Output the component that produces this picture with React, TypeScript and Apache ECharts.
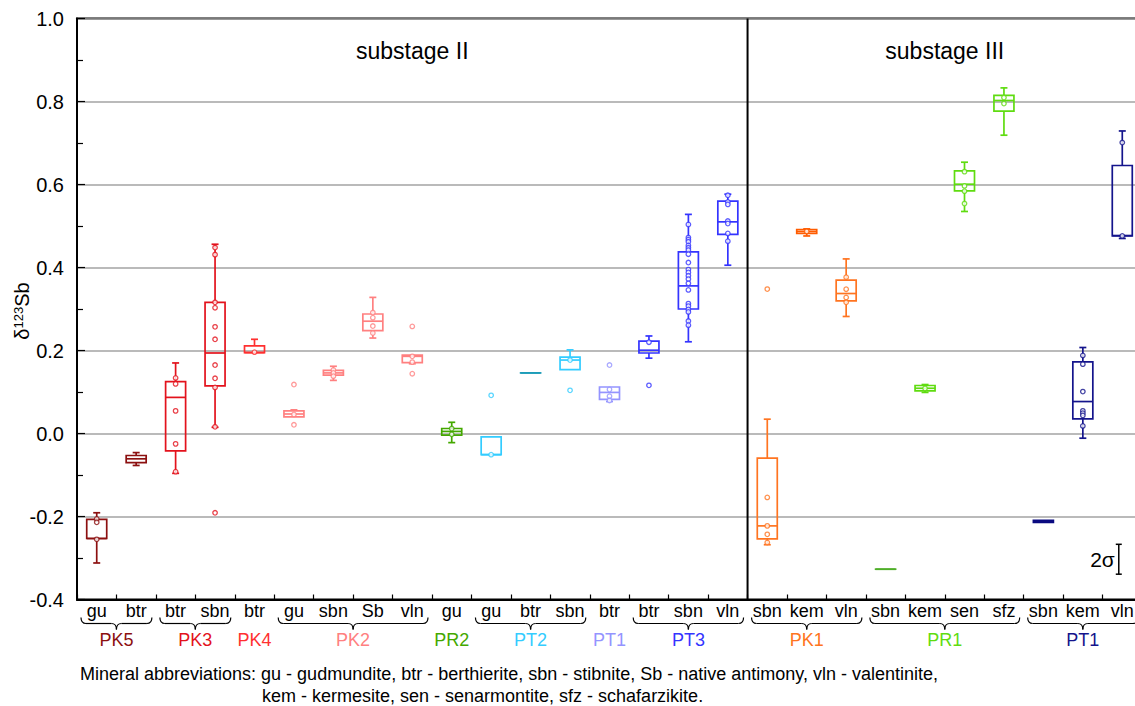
import React, { useEffect, useRef } from "react";
import * as echarts from "echarts";

// ---------- data ----------
const categories = [
  "gu", "btr", "btr", "sbn", "btr", "gu", "sbn", "Sb", "vln", "gu", "gu", "btr", "sbn", "btr",
  "btr", "sbn", "vln", "sbn", "kem", "vln", "sbn", "kem", "sen", "sfz", "sbn", "kem", "vln",
];

const groupNames = ["PK5", "PK3", "PK4", "PK2", "PR2", "PT2", "PT1", "PT3", "PK1", "PR1", "PT1"];
const groupStart = [0, 2, 4, 5, 9, 10, 13, 14, 17, 20, 24];
const groupEnd = [1, 3, 4, 8, 9, 12, 13, 16, 19, 23, 26];
const groupColors = [
  "#8c1010", "#e3121c", "#ff3030", "#ff8080", "#44a800", "#33ccff",
  "#9494ff", "#3434ff", "#ff7420", "#5fdc10", "#14148c",
];
const categoryColorOverrides: Record<number, string> = {
  11: "#1d9cb8",
  18: "#ff5c00",
  20: "#4fae28",
  24: "#0a0a80",
};

const sectionNames = ["substage II", "substage III"];
const sectionStart = [0, 17];
const sectionEnd = [16, 26];

// [min, Q1, median, Q3, max] per category
const boxStats: number[][] = [
  [-0.312, -0.253, -0.253, -0.207, -0.191],
  [-0.077, -0.07, -0.061, -0.053, -0.046],
  [-0.096, -0.042, 0.087, 0.125, 0.17],
  [0.015, 0.115, 0.194, 0.316, 0.456],
  [0.195, 0.195, 0.195, 0.211, 0.227],
  [0.04, 0.04, 0.047, 0.0545, 0.057],
  [0.128, 0.1405, 0.146, 0.152, 0.162],
  [0.23, 0.248, 0.2706, 0.288, 0.328],
  [0.168, 0.171, 0.186, 0.189, 0.189],
  [-0.022, -0.004, 0.005, 0.012, 0.027],
  [-0.051, -0.051, -0.051, -0.008, -0.008],
  [0.146, 0.146, 0.146, 0.146, 0.146],
  [0.154, 0.154, 0.177, 0.184, 0.2015],
  [0.077, 0.082, 0.099, 0.112, 0.112],
  [0.1815, 0.194, 0.2007, 0.2224, 0.235],
  [0.221, 0.3, 0.3557, 0.4376, 0.528],
  [0.4055, 0.48, 0.51, 0.56, 0.5766],
  [-0.268, -0.254, -0.2226, -0.0595, 0.0345],
  [0.476, 0.482, 0.487, 0.4916, 0.493],
  [0.282, 0.3195, 0.3373, 0.3694, 0.4207],
  [-0.327, -0.327, -0.327, -0.327, -0.327],
  [0.099, 0.1027, 0.109, 0.1157, 0.118],
  [0.535, 0.5846, 0.6007, 0.6328, 0.6537],
  [0.7188, 0.7766, 0.8024, 0.815, 0.8328],
  [-0.2145, -0.2145, -0.212, -0.2095, -0.2095],
  [-0.0113, 0.0352, 0.077, 0.1725, 0.2072],
  [0.47, 0.476, 0.477, 0.6458, 0.729],
];

// individual measurements per category
const samplePoints: number[][] = [
  [-0.206, -0.214, -0.255],
  [],
  [0.134, 0.1195, 0.0545, -0.025, -0.092],
  [0.448, 0.431, 0.316, 0.303, 0.257, 0.227, 0.165, 0.133, 0.111, 0.016, -0.191],
  [0.196],
  [0.118, 0.046, 0.021],
  [0.153, 0.146, 0.138],
  [0.2915, 0.279, 0.259, 0.242],
  [0.258, 0.186, 0.172, 0.144],
  [0.012, -0.002],
  [0.092, -0.051],
  [],
  [0.177, 0.104],
  [0.165, 0.106, 0.09, 0.0795],
  [0.22, 0.116],
  [0.5036, 0.472, 0.467, 0.462, 0.453, 0.4475, 0.442, 0.432, 0.412, 0.395, 0.388, 0.38, 0.372,
    0.362, 0.346, 0.313, 0.307, 0.299, 0.293, 0.271, 0.261],
  [0.574, 0.558, 0.552, 0.512, 0.506, 0.482, 0.4634],
  [0.348, -0.154, -0.2226, -0.243, -0.2626],
  [0.487],
  [0.3766, 0.3477, 0.3277, 0.316],
  [],
  [0.109],
  [0.631, 0.5966, 0.584, 0.554],
  [0.8096, 0.795],
  [],
  [0.188, 0.167, 0.101, 0.0545, 0.049, 0.0434, 0.0183],
  [0.701, 0.476],
];

const yMin = -0.4;
const yMax = 1.0;
const yInterval = 0.2;
const twoSigma = 0.072;
const twoSigmaTop = -0.267;

const yAxisTitle = "{d|δ}{s|123}{b|Sb}";
const footnoteLines = [
  "Mineral abbreviations: gu - gudmundite, btr - berthierite, sbn - stibnite, Sb - native antimony, vln - valentinite,",
  "kem - kermesite, sen - senarmontite, sfz - schafarzikite.",
];

const FONT = "'Liberation Sans', Arial, Helvetica, sans-serif";

function groupOf(i: number): number {
  for (let g = 0; g < groupNames.length; g++) {
    if (i >= groupStart[g] && i <= groupEnd[g]) return g;
  }
  return 0;
}
function catColor(i: number): string {
  return categoryColorOverrides[i] || groupColors[groupOf(i)];
}

export default function App() {
  const ref = useRef<HTMLDivElement>(null);

  useEffect(() => {
    if (!ref.current) return;
    const chart = echarts.init(ref.current, undefined, { renderer: "svg" });

    const boxData = categories.map((_, i) => [i, ...boxStats[i]]);
    const pointData: any[] = [];
    samplePoints.forEach((arr, i) => {
      arr.forEach((v) => {
        pointData.push({
          value: [i, v],
          itemStyle: { color: "#fff", borderColor: catColor(i), borderWidth: 1.3 },
        });
      });
    });

    const option: any = {
      animation: false,
      textStyle: { fontFamily: FONT },
      grid: {
        left: 77,
        top: 18.5,
        width: 1065,
        height: 581,
        show: true,
        borderColor: "#000",
        borderWidth: 2,
        backgroundColor: "transparent",
        containLabel: false,
        outerBoundsMode: "none",
      },
      xAxis: {
        type: "category",
        data: categories,
        boundaryGap: true,
        axisLine: { onZero: false, lineStyle: { color: "#000", width: 2 } },
        axisTick: { show: true, inside: true, length: 5, interval: 0, lineStyle: { color: "#000", width: 1.2 } },
        axisLabel: { interval: 0, color: "#000", fontSize: 18, margin: 2, fontFamily: FONT },
        splitLine: { show: false },
      },
      yAxis: {
        type: "value",
        min: yMin,
        max: yMax,
        interval: yInterval,
        axisLine: { show: true, onZero: false, lineStyle: { color: "#000", width: 2 } },
        axisTick: { show: true, inside: true, length: 8, lineStyle: { color: "#000", width: 1.2 } },
        minorTick: { show: true, splitNumber: 2, length: 6, lineStyle: { color: "#000", width: 1.2 } },
        axisLabel: {
          color: "#000",
          fontSize: 20,
          margin: 13,
          fontFamily: FONT,
          formatter: (v: number) => v.toFixed(1),
        },
        splitLine: { show: true, lineStyle: { color: "#a3a3a3", width: 1.5 } },
      },
      series: [
        // section titles and divider
        {
          type: "custom",
          clip: false,
          z: 3,
          data: sectionNames.map((_, s) => [sectionStart[s], 0]),
          renderItem: (params: any, api: any) => {
            const s = params.dataIndex;
            const band = api.size([1, 0])[0];
            const left = api.coord([sectionStart[s], yMax])[0] - band / 2;
            const right = api.coord([sectionEnd[s], yMax])[0] + band / 2;
            const top = api.coord([sectionStart[s], yMax])[1];
            const bottom = api.coord([sectionStart[s], yMin])[1];
            const children: any[] = [
              {
                type: "text",
                style: {
                  text: sectionNames[s],
                  x: (left + right) / 2,
                  y: top + 32,
                  align: "center",
                  verticalAlign: "middle",
                  fill: "#000",
                  fontSize: 23,
                  fontFamily: FONT,
                },
              },
            ];
            if (s > 0) {
              children.push({
                type: "line",
                shape: { x1: left, y1: top, x2: left, y2: bottom },
                style: { stroke: "#000", lineWidth: 2 },
              });
            }
            return { type: "group", children };
          },
        },
        // boxes
        {
          type: "custom",
          z: 4,
          data: boxData,
          encode: { x: 0, y: [1, 2, 3, 4, 5] },
          renderItem: (params: any, api: any) => {
            const i = api.value(0);
            const color = catColor(i);
            const p = (k: number) => api.coord([i, api.value(k)]);
            const x = p(1)[0];
            const yMn = p(1)[1];
            const yQ1 = p(2)[1];
            const yMd = p(3)[1];
            const yQ3 = p(4)[1];
            const yMx = p(5)[1];
            const hw = 10;
            const cw = 3.5;
            const st = { stroke: color, lineWidth: 1.7, fill: "none" };
            const children: any[] = [];
            if (Math.abs(yMx - yQ3) > 0.5) {
              children.push({ type: "line", shape: { x1: x, y1: yMx, x2: x, y2: yQ3 }, style: st });
              children.push({ type: "line", shape: { x1: x - cw, y1: yMx, x2: x + cw, y2: yMx }, style: st });
            }
            if (Math.abs(yMn - yQ1) > 0.5) {
              children.push({ type: "line", shape: { x1: x, y1: yQ1, x2: x, y2: yMn }, style: st });
              children.push({ type: "line", shape: { x1: x - cw, y1: yMn, x2: x + cw, y2: yMn }, style: st });
            }
            children.push({
              type: "rect",
              shape: { x: x - hw, y: yQ3, width: hw * 2, height: Math.max(yQ1 - yQ3, 0.01) },
              style: st,
            });
            children.push({ type: "line", shape: { x1: x - hw, y1: yMd, x2: x + hw, y2: yMd }, style: st });
            return { type: "group", children };
          },
        },
        // individual measurements
        {
          type: "scatter",
          z: 5,
          symbol: "circle",
          symbolSize: 4.5,
          data: pointData,
        },
        // group braces and labels
        {
          type: "custom",
          clip: false,
          z: 3,
          data: groupNames.map((_, g) => [groupStart[g], yMin]),
          renderItem: (params: any, api: any) => {
            const g = params.dataIndex;
            const band = api.size([1, 0])[0];
            const left = api.coord([groupStart[g], yMin])[0] - band / 2 + 4;
            const right = api.coord([groupEnd[g], yMin])[0] + band / 2 - 4;
            const bottom = api.coord([groupStart[g], yMin])[1];
            const c = (left + right) / 2;
            const y0 = bottom + 18;
            const y1 = bottom + 24;
            const y2 = bottom + 30;
            const children: any[] = [];
            if (groupEnd[g] > groupStart[g]) {
              children.push(
                { type: "bezierCurve", shape: { x1: left, y1: y0, x2: left + 5, y2: y1, cpx1: left, cpy1: y1 }, style: { stroke: "#000", lineWidth: 1.2, fill: "none" } },
                { type: "line", shape: { x1: left + 5, y1: y1, x2: c - 5, y2: y1 }, style: { stroke: "#000", lineWidth: 1.2 } },
                { type: "bezierCurve", shape: { x1: c - 5, y1: y1, x2: c, y2: y2, cpx1: c, cpy1: y1 }, style: { stroke: "#000", lineWidth: 1.2, fill: "none" } },
                { type: "bezierCurve", shape: { x1: c, y1: y2, x2: c + 5, y2: y1, cpx1: c, cpy1: y1 }, style: { stroke: "#000", lineWidth: 1.2, fill: "none" } },
                { type: "line", shape: { x1: c + 5, y1: y1, x2: right - 5, y2: y1 }, style: { stroke: "#000", lineWidth: 1.2 } },
                { type: "bezierCurve", shape: { x1: right - 5, y1: y1, x2: right, y2: y0, cpx1: right, cpy1: y1 }, style: { stroke: "#000", lineWidth: 1.2, fill: "none" } }
              );
            }
            children.push({
              type: "text",
              style: {
                text: groupNames[g],
                x: c,
                y: bottom + 40,
                align: "center",
                verticalAlign: "middle",
                fill: groupColors[g],
                fontSize: 18,
                fontFamily: FONT,
              },
            });
            return { type: "group", children };
          },
        },
        // 2 sigma scale bar
        {
          type: "custom",
          clip: false,
          z: 3,
          data: [[categories.length - 1, twoSigmaTop]],
          renderItem: (params: any, api: any) => {
            const i = api.value(0);
            const top = api.coord([i, twoSigmaTop]);
            const bot = api.coord([i, twoSigmaTop - twoSigma]);
            const x = top[0] - 3.5;
            const st = { stroke: "#000", lineWidth: 1.5 };
            return {
              type: "group",
              children: [
                { type: "line", shape: { x1: x, y1: top[1], x2: x, y2: bot[1] }, style: st },
                { type: "line", shape: { x1: x - 3, y1: top[1], x2: x + 3, y2: top[1] }, style: st },
                { type: "line", shape: { x1: x - 3, y1: bot[1], x2: x + 3, y2: bot[1] }, style: st },
                {
                  type: "text",
                  style: {
                    text: "2σ",
                    x: x - 4,
                    y: (top[1] + bot[1]) / 2,
                    align: "right",
                    verticalAlign: "middle",
                    fill: "#000",
                    fontSize: 21,
                    fontFamily: FONT,
                  },
                },
              ],
            };
          },
        },
      ],
      graphic: [
        {
          type: "text",
          x: 22,
          y: 311,
          rotation: Math.PI / 2,
          style: {
            text: yAxisTitle,
            align: "center",
            verticalAlign: "middle",
            fill: "#000",
            fontFamily: FONT,
            fontSize: 20,
            rich: {
              d: { fontSize: 20, fill: "#000", fontFamily: FONT },
              s: { fontSize: 13, fill: "#000", fontFamily: FONT, padding: [0, 0, 8, 0] },
              b: { fontSize: 20, fill: "#000", fontFamily: FONT },
            },
          },
        },
        {
          type: "text",
          left: 80,
          top: 665,
          style: { text: footnoteLines[0], fill: "#000", fontSize: 18, fontFamily: FONT },
        },
        {
          type: "text",
          left: 262,
          top: 687,
          style: { text: footnoteLines[1], fill: "#000", fontSize: 18, fontFamily: FONT },
        },
      ],
    };

    chart.setOption(option);
    return () => chart.dispose();
  }, []);

  return (
    <div
      ref={ref}
      style={{ position: "absolute", left: 0, top: 0, width: 1135, height: 706, background: "#fff", overflow: "hidden" }}
    />
  );
}
